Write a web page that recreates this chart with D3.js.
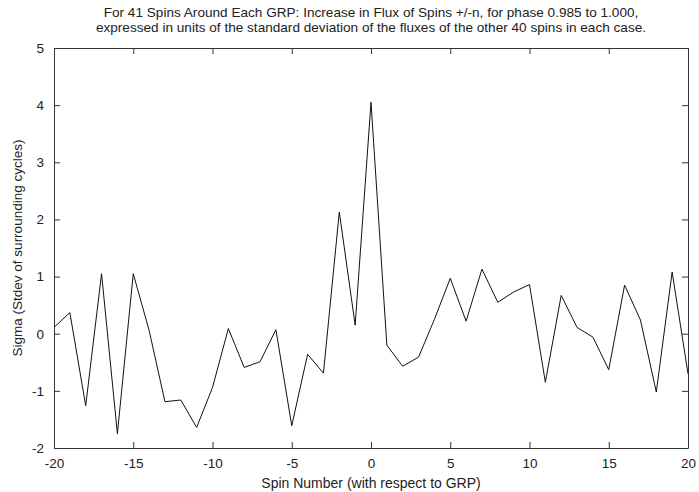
<!DOCTYPE html>
<html lang="en">
<head>
<meta charset="utf-8">
<title>Spins around GRP</title>
<script src="https://d3js.org/d3.v7.min.js"></script>
<style>
  body { margin: 0; background: #fff; }
  text { font-family: "Liberation Sans", Arial, sans-serif; fill: #222; }
</style>
</head>
<body>
<script>
// spin offsets and sigma values
const spins = d3.range(-20, 21);
const sigma = [0.11, 0.37, -1.26, 1.05, -1.75, 1.05, 0.06, -1.19, -1.16, -1.64,
  -0.94, 0.09, -0.59, -0.49, 0.07, -1.61, -0.36, -0.69, 2.13, 0.15,
  4.05, -0.2, -0.57, -0.41, 0.25, 0.97, 0.22, 1.13, 0.55, 0.73,
  0.86, -0.85, 0.67, 0.11, -0.06, -0.63, 0.85, 0.24, -1.02, 1.08, -0.7];
const xTicks = [-20, -15, -10, -5, 0, 5, 10, 15, 20];
const yTicks = [-2, -1, 0, 1, 2, 3, 4, 5];
const titleLines = [
  "For 41 Spins Around Each GRP: Increase in Flux of Spins +/-n, for phase 0.985 to 1.000,",
  "expressed in units of the standard deviation of the fluxes of the other 40 spins in each case."
];

const width = 699, height = 492;
const margin = { top: 48, right: 11, bottom: 44, left: 54 };

const svg = d3.select("body").append("svg")
  .attr("width", width)
  .attr("height", height);

const x = d3.scaleLinear().domain([-20, 20]).range([margin.left, width - margin.right]);
const y = d3.scaleLinear().domain([-2, 5]).range([height - margin.bottom, margin.top]);

// title
svg.append("g").selectAll("text")
  .data(titleLines)
  .join("text")
  .attr("x", (margin.left + width - margin.right) / 2)
  .attr("y", (d, i) => 17 + i * 15)
  .attr("text-anchor", "middle")
  .attr("font-size", 13.6)
  .text(d => d);

// axes, ticks point inward and are mirrored on top/right
const tk = 6;
const fmt = d => String(d);
svg.append("g")
  .attr("transform", `translate(0,${y(-2)})`)
  .call(d3.axisBottom(x).tickValues(xTicks).tickSizeInner(-tk).tickSizeOuter(0).tickPadding(10).tickFormat(fmt))
  .call(g => g.selectAll("text").attr("font-size", 13.5));
svg.append("g")
  .attr("transform", `translate(0,${y(5)})`)
  .call(d3.axisTop(x).tickValues(xTicks).tickSizeInner(-tk).tickSizeOuter(0).tickFormat(""));
svg.append("g")
  .attr("transform", `translate(${x(-20)},0)`)
  .call(d3.axisLeft(y).tickValues(yTicks).tickSizeInner(-tk).tickSizeOuter(0).tickPadding(10).tickFormat(fmt))
  .call(g => g.selectAll("text").attr("font-size", 13.5));
svg.append("g")
  .attr("transform", `translate(${x(20)},0)`)
  .call(d3.axisRight(y).tickValues(yTicks).tickSizeInner(-tk).tickSizeOuter(0).tickFormat(""));

svg.selectAll(".domain, .tick line").attr("stroke", "#333");

// axis labels
svg.append("text")
  .attr("x", (margin.left + width - margin.right) / 2)
  .attr("y", 488)
  .attr("text-anchor", "middle")
  .attr("font-size", 14)
  .text("Spin Number (with respect to GRP)");
svg.append("text")
  .attr("transform", `translate(22,${(y(5) + y(-2)) / 2}) rotate(-90)`)
  .attr("text-anchor", "middle")
  .attr("font-size", 13.5)
  .text("Sigma (Stdev of surrounding cycles)");

// data line
const line = d3.line().x((d, i) => x(spins[i])).y(d => y(d));
svg.append("path")
  .datum(sigma)
  .attr("fill", "none")
  .attr("stroke", "#111")
  .attr("stroke-width", 1)
  .attr("d", line);
</script>
</body>
</html>
